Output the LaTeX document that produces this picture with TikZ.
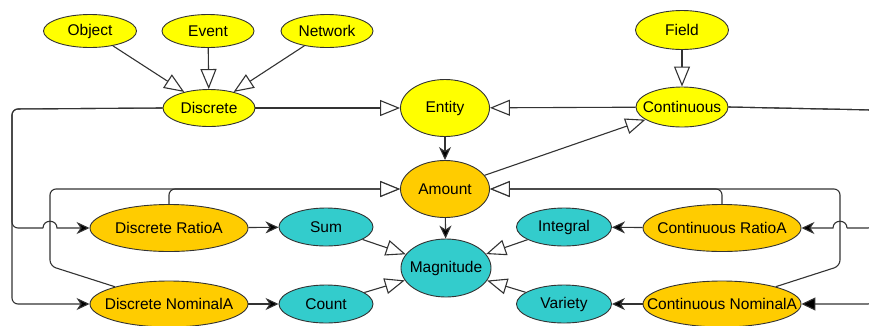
\documentclass[tikz,border=0pt]{standalone}
\usepackage{fontspec}
\setmainfont{Liberation Sans}
\usetikzlibrary{arrows.meta,shapes.geometric}
\definecolor{yelA}{HTML}{FFFF00}
\definecolor{orgA}{HTML}{FFCC00}
\definecolor{teaA}{HTML}{33CCCC}
\definecolor{lineA}{HTML}{333333}
\newcommand{\zbx}[1]{\makebox[0pt]{#1}}
\begin{document}
\begin{tikzpicture}[x=1pt,y=-1pt,
  ell/.style={ellipse, draw=lineA, line width=0.9pt, inner sep=0pt, font=\fontsize{15.5}{18}\selectfont},
  yel/.style={ell, fill=yelA},
  org/.style={ell, fill=orgA},
  tea/.style={ell, fill=teaA},
  gen/.style={draw=lineA, line width=1.1pt, -{Triangle[open,length=20pt,width=16pt,fill=white]}},
  assoc/.style={draw=lineA, line width=1.1pt, -{Stealth[length=13pt,width=12pt,inset=4pt,fill=black]}},
  assocb/.style={draw=lineA, line width=1.1pt, -{Triangle[length=14pt,width=13pt,fill=black]}},
  plain/.style={draw=lineA, line width=1.1pt}
]
\useasboundingbox (0,0) rectangle (869,325);
\clip (0,0) rectangle (869,325);
\fill[white] (0,0) rectangle (869,325);

\node[yel, minimum width=93pt, minimum height=33pt] (obj) at (90,31) {\zbx{Object}};
\node[yel, minimum width=92pt, minimum height=33pt] (evt) at (208,31) {\zbx{Event}};
\node[yel, minimum width=92pt, minimum height=33pt] (net) at (327,31) {\zbx{Network}};
\node[yel, minimum width=93pt, minimum height=39pt] (fld) at (682,30) {\zbx{Field}};
\node[yel, minimum width=92pt, minimum height=37pt] (disc) at (209,108) {\zbx{Discrete}};
\node[yel, minimum width=92pt, minimum height=40pt] (cont) at (682,107) {\zbx{Continuous}};
\node[yel, minimum width=89pt, minimum height=57pt] (ent) at (445,108) {\zbx{Entity}};
\node[org, minimum width=89pt, minimum height=57pt] (amt) at (445,189) {\zbx{Amount}};
\node[tea, minimum width=90pt, minimum height=58pt] (mag) at (446,268) {\zbx{Magnitude}};
\node[tea, minimum width=94pt, minimum height=38pt] (sum) at (326,227) {\zbx{Sum}};
\node[tea, minimum width=94pt, minimum height=38pt] (cnt) at (326,304) {\zbx{Count}};
\node[tea, minimum width=95pt, minimum height=38pt] (int) at (564,227) {\zbx{Integral}};
\node[tea, minimum width=95pt, minimum height=38pt] (var) at (564,304) {\zbx{Variety}};
\node[org, minimum width=158pt, minimum height=47pt] (dra) at (169,228) {\zbx{Discrete RatioA}};
\node[org, minimum width=158pt, minimum height=46pt] (dna) at (169,304) {\zbx{Discrete NominalA}};
\node[org, minimum width=158pt, minimum height=47pt] (cra) at (722,228) {\zbx{Continuous RatioA}};
\node[org, minimum width=158pt, minimum height=46pt] (cna) at (722,304) {\zbx{Continuous NominalA}};

\draw[gen] (obj) -- (disc);
\draw[gen] (evt) -- (disc);
\draw[gen] (net) -- (disc);
\draw[gen] (fld) -- (cont);
\draw[gen] (disc) -- (ent);
\draw[gen] (cont) -- (ent);
\draw[gen] (amt) -- (cont);
\draw[gen] (sum) -- (mag);
\draw[gen] (cnt) -- (mag);
\draw[gen] (int) -- (mag);
\draw[gen] (var) -- (mag);
\draw[assoc] (ent) -- (amt);
\draw[assoc] (amt) -- (mag);
\draw[assoc] (dra) -- (sum);
\draw[assoc] (dna) -- (cnt);
\draw[assoc] (cra) -- (int);
\draw[assoc] (cna) -- (var);

\draw[gen, rounded corners=6pt] (dra.north) -- (169,189) -- (amt.west);
\draw[gen, rounded corners=6pt] (dna) -- (50,266) -- (50,189) -- (amt.west);
\draw[gen, rounded corners=6pt] (cra.north) -- (722,189) -- (amt.east);
\draw[gen, rounded corners=6pt] (cna) -- (840,266) -- (840,189) -- (amt.east);

\coordinate (hl1) at (43,228);
\coordinate (hl2) at (57,228);
\coordinate (hr1) at (847,228);
\coordinate (hr2) at (833,228);
\draw[assoc, rounded corners=6pt] (disc.west) -- (12,109) -- (12,304) -- (dna.west);
\draw[plain, rounded corners=6pt] (disc.west) -- (12,109) -- (12,228) -- (hl1);
\draw[assoc] (hl1) .. controls (43,219) and (57,219) .. (hl2) -- (dra.west);
\draw[assocb, rounded corners=6pt] (cont.east) -- (874,110) -- (874,304) -- (cna.east);
\draw[plain, rounded corners=6pt] (cont.east) -- (874,110) -- (874,228) -- (hr1);
\draw[assoc] (hr1) .. controls (847,219) and (833,219) .. (hr2) -- (cra.east);
\end{tikzpicture}
\end{document}
